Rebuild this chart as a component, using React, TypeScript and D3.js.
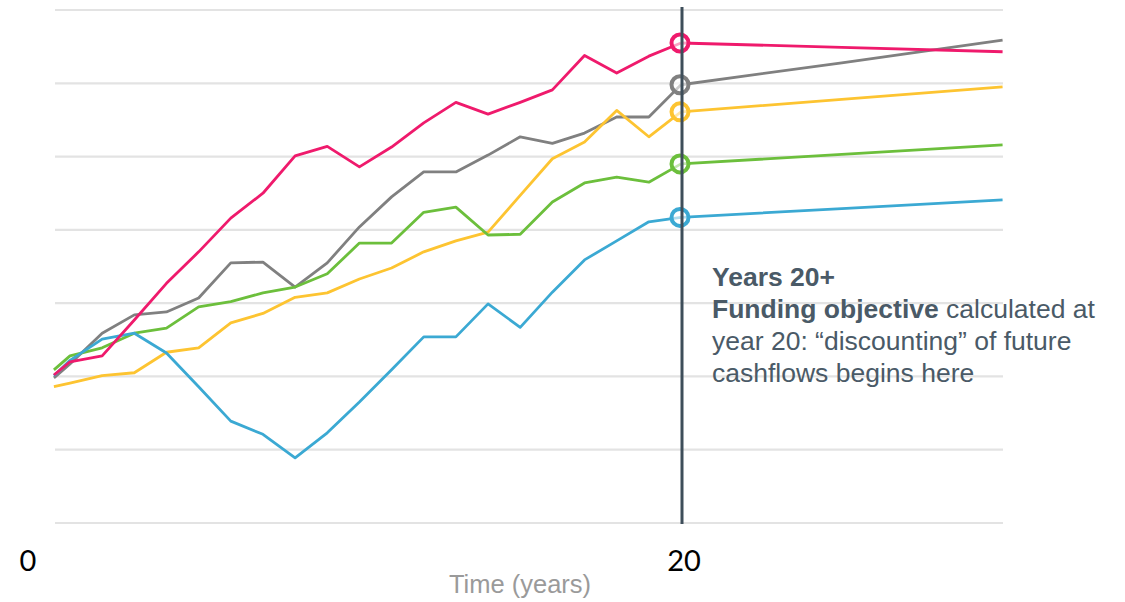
import React from "react";
import * as d3 from "d3";

// years for the history part (the first point is where the picture is cut)
const years = [0.5, 1, 2, 3, 4, 5, 6, 7, 8, 9, 10, 11, 12, 13, 14, 15, 16, 17, 18, 19, 20];
const tailYears = [20, 25, 30];

const pinkValues = [2.02, 2.2, 2.28, 2.77, 3.27, 3.7, 4.16, 4.5, 5.01, 5.14, 4.86, 5.13, 5.46, 5.74, 5.58, 5.74, 5.91, 6.38, 6.14, 6.37, 6.55];
const grayValues = [1.98, 2.17, 2.59, 2.84, 2.88, 3.07, 3.55, 3.56, 3.22, 3.55, 4.04, 4.45, 4.79, 4.79, 5.02, 5.27, 5.18, 5.32, 5.54, 5.54, 5.98];
const yellowValues = [1.86, 1.91, 2.01, 2.05, 2.33, 2.39, 2.73, 2.86, 3.08, 3.14, 3.33, 3.48, 3.7, 3.85, 3.97, 4.47, 4.97, 5.2, 5.63, 5.27, 5.61];
const greenValues = [2.09, 2.28, 2.39, 2.59, 2.66, 2.95, 3.02, 3.14, 3.22, 3.4, 3.82, 3.82, 4.24, 4.31, 3.93, 3.94, 4.38, 4.64, 4.72, 4.65, 4.9];
const blueValues = [2.01, 2.22, 2.51, 2.59, 2.32, 1.86, 1.39, 1.21, 0.89, 1.23, 1.65, 2.09, 2.54, 2.54, 2.99, 2.67, 3.15, 3.59, 3.85, 4.11, 4.17];

const pinkTail = [6.55, 6.49, 6.43];
const grayTail = [5.98, 6.28, 6.59];
const yellowTail = [5.61, 5.78, 5.95];
const greenTail = [4.9, 5.03, 5.16];
const blueTail = [4.17, 4.29, 4.41];

const gridValues = [0, 1, 2, 3, 4, 5, 6, 7];
const tickLabels = ["0", "20"];

const series = [
  { name: "gray", color: "#808080", values: grayValues, tail: grayTail },
  { name: "yellow", color: "#fdc431", values: yellowValues, tail: yellowTail },
  { name: "green", color: "#6cbf3c", values: greenValues, tail: greenTail },
  { name: "blue", color: "#3ba9d3", values: blueValues, tail: blueTail },
  { name: "pink", color: "#ef1a6c", values: pinkValues, tail: pinkTail },
];

const App = () => {
  const width = 1125;
  const height = 602;
  const left = 55;
  const right = 1003;

  const x = d3.scaleLinear().domain([1, 20]).range([70, 681]);
  const y = d3.scaleLinear().domain([0, 7]).range([523, 10]);

  const line = d3
    .line<[number, number]>()
    .x((d) => x(d[0]))
    .y((d) => y(d[1]));

  const slate = "#3e4e5a";
  const textColor = "#4a5a67";
  const sans = "'Liberation Sans', Arial, sans-serif";

  return (
    <svg width={width} height={height} style={{ position: "absolute", left: 0, top: 0, background: "#fff" }}>
      {gridValues.map((g) => (
        <line key={g} x1={left} x2={right} y1={y(g)} y2={y(g)} stroke="#e3e3e3" strokeWidth={2.2} />
      ))}
      {series.map((s) => (
        <g key={s.name}>
          <path
            d={line(years.map((yr, i) => [yr, s.values[i]]))!}
            fill="none"
            stroke={s.color}
            strokeWidth={2.8}
            strokeLinejoin="round"
          />
          <path
            d={line(tailYears.map((yr, i) => [yr, s.tail[i]]))!}
            fill="none"
            stroke={s.color}
            strokeWidth={2.8}
          />
        </g>
      ))}
      {series.map((s) => (
        <circle
          key={s.name + "c"}
          cx={x(20) - 1}
          cy={y(s.values[s.values.length - 1])}
          r={8.5}
          fill="#fff"
          fillOpacity={0.6}
          stroke={s.color}
          strokeWidth={4}
        />
      ))}
      <line x1={x(20) + 1} x2={x(20) + 1} y1={7} y2={524} stroke={slate} strokeWidth={3} />

      <g style={{ fontFamily: sans, fontSize: "26.5px" }} fill={textColor}>
        <text x={712} y={286} fontWeight="bold">Years 20+</text>
        <text x={712} y={318}>
          <tspan fontWeight="bold">Funding objective</tspan> calculated at
        </text>
        <text x={712} y={350}>year 20: “discounting” of future</text>
        <text x={712} y={382}>cashflows begins here</text>
      </g>

      <g style={{ fontFamily: "Lato, 'Open Sans', sans-serif", fontSize: "29px" }} fill="#000">
        <text x={28} y={571} textAnchor="middle">{tickLabels[0]}</text>
        <text x={x(20) + 3} y={571} textAnchor="middle">{tickLabels[1]}</text>
      </g>
      <text
        x={520}
        y={593}
        textAnchor="middle"
        style={{ fontFamily: sans, fontSize: "25.5px" }}
        fill="#9a9a9a"
      >
        Time (years)
      </text>
    </svg>
  );
};

export default App;
